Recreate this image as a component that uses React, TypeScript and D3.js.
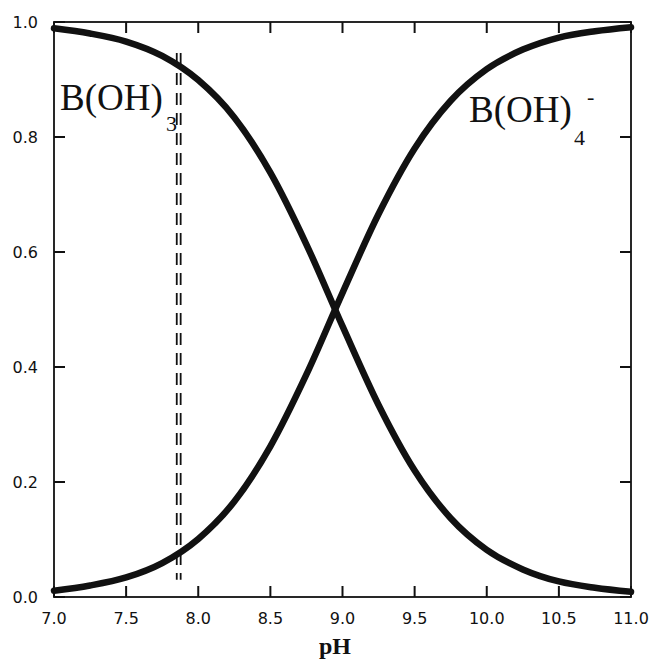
import React, { useEffect, useRef } from 'react';
import * as d3 from 'd3';

// values
const pHValues = [7.0, 7.25, 7.5, 7.75, 8.0, 8.25, 8.5, 8.75, 9.0, 9.25, 9.5, 9.75, 10.0, 10.25, 10.5, 10.75, 11.0];
const boricAcid = [0.989, 0.980, 0.966, 0.941, 0.899, 0.834, 0.738, 0.613, 0.471, 0.334, 0.220, 0.137, 0.082, 0.048, 0.027, 0.016, 0.009];
const borate = [0.011, 0.020, 0.034, 0.059, 0.101, 0.166, 0.262, 0.387, 0.529, 0.666, 0.780, 0.863, 0.918, 0.952, 0.973, 0.984, 0.991];
const dashedPH = [7.851, 7.878];
const dashedRange = [0.03, 0.946];
const xTicks = [7.0, 7.5, 8.0, 8.5, 9.0, 9.5, 10.0, 10.5, 11.0];
const yTicks = [0.0, 0.2, 0.4, 0.6, 0.8, 1.0];

export default function App() {
    const ref = useRef<SVGSVGElement>(null);

    useEffect(() => {
        const width = 652;
        const height = 663;
        const margin = { top: 22, right: 21, bottom: 66, left: 54 };
        const innerWidth = width - margin.left - margin.right;
        const innerHeight = height - margin.top - margin.bottom;

        const svg = d3.select(ref.current);
        svg.selectAll('*').remove();
        const g = svg.append('g').attr('transform', `translate(${margin.left},${margin.top})`);

        const x = d3.scaleLinear().domain([7, 11]).range([0, innerWidth]);
        const y = d3.scaleLinear().domain([0, 1]).range([innerHeight, 0]);

        // frame
        g.append('rect')
            .attr('x', 0).attr('y', 0)
            .attr('width', innerWidth).attr('height', innerHeight)
            .attr('fill', 'none').attr('stroke', '#111').attr('stroke-width', 1.8);

        // inward ticks on all four sides
        const tl = 11;
        g.selectAll('.tb').data(xTicks).join('line')
            .attr('x1', (d) => x(d)).attr('x2', (d) => x(d))
            .attr('y1', innerHeight).attr('y2', innerHeight - tl)
            .attr('stroke', '#111').attr('stroke-width', 2);
        g.selectAll('.tt').data(xTicks).join('line')
            .attr('x1', (d) => x(d)).attr('x2', (d) => x(d))
            .attr('y1', 0).attr('y2', tl)
            .attr('stroke', '#111').attr('stroke-width', 2);
        g.selectAll('.tl').data(yTicks).join('line')
            .attr('x1', 0).attr('x2', tl)
            .attr('y1', (d) => y(d)).attr('y2', (d) => y(d))
            .attr('stroke', '#111').attr('stroke-width', 2);
        g.selectAll('.tr').data(yTicks).join('line')
            .attr('x1', innerWidth).attr('x2', innerWidth - tl)
            .attr('y1', (d) => y(d)).attr('y2', (d) => y(d))
            .attr('stroke', '#111').attr('stroke-width', 2);

        // tick labels
        const sans = 'DejaVu Sans, Verdana, sans-serif';
        g.selectAll('.xl').data(xTicks).join('text')
            .attr('x', (d) => x(d)).attr('y', innerHeight + 27)
            .attr('text-anchor', 'middle')
            .attr('font-family', sans)
            .attr('font-size', 16).attr('fill', '#111')
            .text((d) => d.toFixed(1));
        g.selectAll('.yl').data(yTicks).join('text')
            .attr('x', -16).attr('y', (d) => y(d)).attr('dy', '0.36em')
            .attr('text-anchor', 'end')
            .attr('font-family', sans)
            .attr('font-size', 16).attr('fill', '#111')
            .text((d) => d.toFixed(1));

        // double dashed line
        g.selectAll('.dash').data(dashedPH).join('line')
            .attr('x1', (d) => x(d)).attr('x2', (d) => x(d))
            .attr('y1', y(dashedRange[1])).attr('y2', y(dashedRange[0]))
            .attr('stroke', '#111').attr('stroke-width', 1.8)
            .attr('stroke-dasharray', '12,8');

        // curves
        const line = d3.line<[number, number]>()
            .x((d) => x(d[0]))
            .y((d) => y(d[1]))
            .curve(d3.curveMonotoneX);

        [boricAcid, borate].forEach((series) => {
            g.append('path')
                .datum(pHValues.map((p, i) => [p, series[i]] as [number, number]))
                .attr('d', line)
                .attr('fill', 'none')
                .attr('stroke', '#111')
                .attr('stroke-width', 6.5)
                .attr('stroke-linecap', 'round');
        });

        // species labels
        const serif = 'Liberation Serif, Times New Roman, serif';
        const l1 = svg.append('text').attr('font-family', serif).attr('fill', '#111');
        l1.append('tspan').attr('x', 60).attr('y', 110).attr('font-size', 37).text('B(OH)');
        l1.append('tspan').attr('x', 166).attr('y', 131).attr('font-size', 22).text('3');

        const l2 = svg.append('text').attr('font-family', serif).attr('fill', '#111');
        l2.append('tspan').attr('x', 469).attr('y', 122).attr('font-size', 37).text('B(OH)');
        l2.append('tspan').attr('x', 574).attr('y', 145).attr('font-size', 22).text('4');
        l2.append('tspan').attr('x', 587).attr('y', 104).attr('font-size', 22).text('-');

        // axis title
        svg.append('text')
            .attr('x', 335).attr('y', 654)
            .attr('text-anchor', 'middle')
            .attr('font-family', serif)
            .attr('font-weight', 'bold')
            .attr('font-size', 24)
            .attr('fill', '#111')
            .text('pH');
    }, []);

    return (
        <svg ref={ref} width={652} height={663}
            style={{ position: 'absolute', left: 0, top: 0, background: '#fff' }}>
        </svg>
    );
}
